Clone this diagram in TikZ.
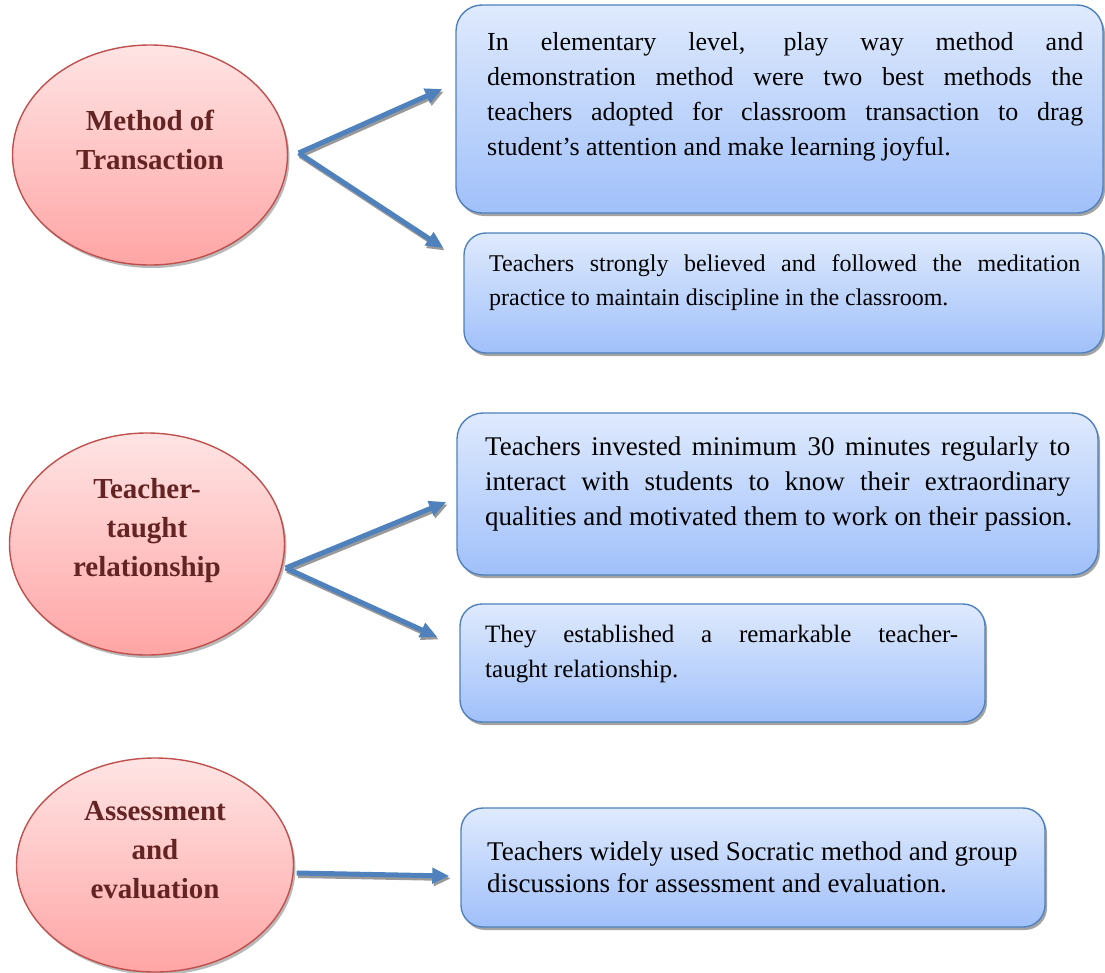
\documentclass[tikz,border=0pt]{standalone}
\usepackage{fontspec}
\setmainfont{Liberation Serif}
\usetikzlibrary{shapes.geometric,shadows,arrows.meta,calc}

\definecolor{ovalline}{HTML}{C0504D}
\definecolor{ovaltop}{HTML}{FFE4E4}
\definecolor{ovalbot}{HTML}{FFA5A5}
\definecolor{ovalink}{HTML}{632423}
\definecolor{boxline}{HTML}{4F81BD}
\definecolor{boxtop}{HTML}{DFEAFD}
\definecolor{boxbot}{HTML}{A0C0FA}
\definecolor{linkblue}{HTML}{4F81BD}

% one fully justified line of a given width
\newcommand\jline[2]{\makebox[#1][s]{#2}}

\begin{document}
\begin{tikzpicture}[x=1pt,y=-1pt,
  oval/.style={ellipse, draw=ovalline, line width=1.4pt,
    top color=ovaltop, bottom color=ovalbot,
    drop shadow={shadow xshift=2pt,shadow yshift=-3pt,fill=black!55,opacity=0.5},
    minimum width=275pt, minimum height=220pt, inner sep=0pt},
  ovaltext/.style={font=\bfseries\fontsize{29}{39}\selectfont, text=ovalink,
    align=center, inner sep=0pt},
  card/.style={rectangle, rounded corners=26pt, draw=boxline, line width=1.4pt,
    top color=boxtop, bottom color=boxbot,
    drop shadow={shadow xshift=2pt,shadow yshift=-3pt,fill=black!60,opacity=0.6},
    inner sep=0pt},
  cardtext/.style={anchor=north west, align=left, inner sep=0pt, text=black},
  link/.style={draw=linkblue, line width=5pt,
    -{Triangle[length=17pt,width=15pt]}},
  linkshadow/.style={draw=black!40, line width=5pt,
    -{Triangle[length=17pt,width=15pt]},
    transform canvas={shift={(1.5pt,-2.5pt)}}}
]
\useasboundingbox (0,0) rectangle (1105,972);

% ---- topic ovals ----
\node[oval] (e1) at (150,155) {};
\node[ovaltext] (e1t) at (150,140) {Method of\\Transaction};

\node[oval, minimum height=222pt] (e2) at (147,544) {};
\node[ovaltext] (e2t) at (147,531) {Teacher-\\taught\\relationship};

\node[oval, minimum width=277pt, minimum height=214pt] (e3) at (155,865) {};
\node[ovaltext] (e3t) at (155,850) {Assessment\\and\\evaluation};

% ---- finding cards ----
\node[card, minimum width=647pt, minimum height=208pt] (b1) at (779.5,109) {};
\node[cardtext, font=\fontsize{26}{35}\selectfont] (t1) at (487,32)
  {\jline{596pt}{In elementary level, play way method and}\\
   \jline{596pt}{demonstration method were two best methods the}\\
   \jline{596pt}{teachers adopted for classroom transaction to drag}\\
   student’s attention and make learning joyful.};

\node[card, rounded corners=22pt, minimum width=639pt, minimum height=120pt] (b2) at (783.5,293) {};
\node[cardtext, font=\fontsize{24}{34}\selectfont] (t2) at (489,254)
  {\jline{591pt}{Teachers strongly believed and followed the meditation}\\
   practice to maintain discipline in the classroom.};

\node[card, minimum width=641pt, minimum height=162pt] (b3) at (777.5,494) {};
\node[cardtext, font=\fontsize{27}{35}\selectfont] (t3) at (485,437)
  {\jline{585pt}{Teachers invested minimum 30 minutes regularly to}\\
   \jline{585pt}{interact with students to know their extraordinary}\\
   qualities and motivated them to work on their passion.};

\node[card, rounded corners=22pt, minimum width=525pt, minimum height=118pt] (b4) at (722.5,663) {};
\node[cardtext, font=\fontsize{25}{35}\selectfont] (t4) at (485,625)
  {\jline{473pt}{They established a remarkable teacher-}\\
   taught relationship.};

\node[card, rounded corners=22pt, minimum width=584pt, minimum height=119pt] (b5) at (753,867.5) {};
\node[cardtext, font=\fontsize{27}{32}\selectfont] (t5) at (487,842)
  {Teachers widely used Socratic method and group\\
   discussions for assessment and evaluation.};

% ---- connector end points ----
\coordinate (s1) at ($(e1.east)+(10.5,-2)$);
\coordinate (a1) at ($(b1.west)+(-13,-20)$);
\coordinate (a2) at ($(b2.west)+(-20,-45)$);
\coordinate (s2) at ($(e2.east)+(0.5,24)$);
\coordinate (a3) at ($(b3.west)+(-10,8)$);
\coordinate (a4) at ($(b4.west)+(-22,-26)$);
\coordinate (s3) at ($(e3.east)+(2.5,8)$);
\coordinate (a5) at ($(b5.west)+(-11,8.5)$);

% ---- connectors: shadow first, then the blue arrow ----
\foreach \p/\q in {s1/a1, s1/a2, s2/a3, s2/a4, s3/a5}{
  \draw[linkshadow] (\p) -- (\q);
}
\foreach \p/\q in {s1/a1, s1/a2, s2/a3, s2/a4, s3/a5}{
  \draw[link] (\p) -- (\q);
}
\end{tikzpicture}
\end{document}
